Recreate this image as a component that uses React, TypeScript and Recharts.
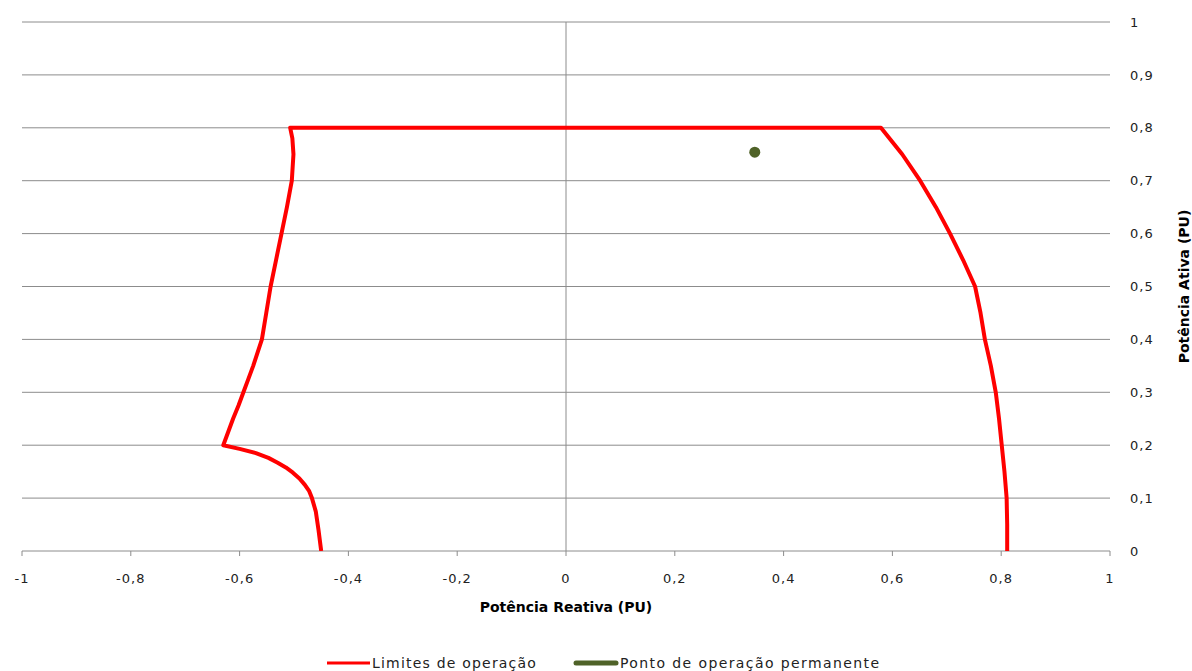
import React from 'react';
import { ComposedChart, Scatter, XAxis, YAxis, CartesianGrid, ReferenceLine } from 'recharts';

const limitX = [-0.45, -0.455, -0.46, -0.467, -0.472, -0.48, -0.49, -0.502, -0.515, -0.53, -0.547, -0.57, -0.6, -0.63, -0.621, -0.612, -0.602, -0.593, -0.584, -0.575, -0.567, -0.559, -0.551, -0.543, -0.533, -0.523, -0.513, -0.504, -0.501, -0.503, -0.507, 0.579, 0.618, 0.651, 0.68, 0.706, 0.73, 0.752, 0.762, 0.77, 0.781, 0.79, 0.796, 0.801, 0.806, 0.81, 0.811, 0.811];
const limitY = [0, 0.04, 0.075, 0.1, 0.113, 0.125, 0.137, 0.148, 0.158, 0.167, 0.176, 0.185, 0.193, 0.2, 0.225, 0.25, 0.275, 0.3, 0.325, 0.35, 0.375, 0.4, 0.45, 0.5, 0.55, 0.6, 0.65, 0.7, 0.75, 0.78, 0.8, 0.8, 0.75, 0.7, 0.65, 0.6, 0.55, 0.5, 0.45, 0.4, 0.35, 0.3, 0.25, 0.2, 0.15, 0.1, 0.05, 0];
const pointX = [0.347];
const pointY = [0.754];
const xTicks = [-1, -0.8, -0.6, -0.4, -0.2, 0, 0.2, 0.4, 0.6, 0.8, 1];
const yTicks = [0, 0.1, 0.2, 0.3, 0.4, 0.5, 0.6, 0.7, 0.8, 0.9, 1];
const xTitle = 'Potência Reativa (PU)';
const yTitle = 'Potência Ativa (PU)';
const series1Name = 'Limites de operação';
const series2Name = 'Ponto de operação permanente';

const limitData = limitX.map((x, i) => ({ x, y: limitY[i] }));
const pointData = pointX.map((x, i) => ({ x, y: pointY[i] }));

const fmt = (v: number) => String(Math.round(v * 10) / 10).replace('.', ',');
const FONT = '"DejaVu Sans", Verdana, sans-serif';
const tickStyle = { fontFamily: FONT, fontSize: 13, fill: '#222', letterSpacing: 1 } as any;

export default function App() {
  return (
    <div style={{ position: 'absolute', left: 0, top: 0, width: 1192, height: 671, background: '#fff' }}>
      <ComposedChart width={1192} height={671} margin={{ top: 22, right: 0, left: 22, bottom: 0 }}>
        <CartesianGrid horizontal vertical={false} stroke="#8c8c8c" strokeWidth={1} horizontalValues={yTicks.filter((t) => t > 0)} />
        <XAxis
          type="number"
          dataKey="x"
          domain={[-1, 1]}
          ticks={xTicks}
          tickFormatter={fmt}
          height={120}
          stroke="#8c8c8c"
          tickSize={5}
          tickMargin={18}
          tick={tickStyle}
          allowDataOverflow
          label={{ value: xTitle, position: 'insideTop', offset: 51, style: { fontFamily: FONT, fontSize: 14, fontWeight: 'bold', fill: '#000' } }}
        />
        <YAxis
          type="number"
          dataKey="y"
          orientation="right"
          domain={[0, 1]}
          ticks={yTicks}
          tickFormatter={fmt}
          width={82}
          axisLine={false}
          tickLine={false}
          tickSize={0}
          tickMargin={20}
          tick={tickStyle}
          allowDataOverflow
          label={{ value: yTitle, angle: -90, position: 'insideRight', offset: 0, dx: -8, style: { textAnchor: 'middle', fontFamily: FONT, fontSize: 14, fontWeight: 'bold', fill: '#000' } }}
        />
        <ReferenceLine x={0} stroke="#8c8c8c" strokeWidth={1} />
        <Scatter
          data={limitData}
          line={{ stroke: '#ff0000', strokeWidth: 4, strokeLinejoin: 'round' } as any}
          shape={() => null}
          isAnimationActive={false}
        />
        <Scatter
          data={pointData}
          fill="#4F6228"
          shape={(p: any) => <circle cx={p.cx} cy={p.cy} r={5.5} fill="#4F6228" />}
          isAnimationActive={false}
        />
        <g>
          <line x1={327} y1={663} x2={370} y2={663} stroke="#ff0000" strokeWidth={3} />
          <text x={372} y={668} fontFamily={FONT} fontSize={14} fill="#222" letterSpacing={1.2}>{series1Name}</text>
          <line x1={576} y1={663} x2={616} y2={663} stroke="#4F6228" strokeWidth={5} strokeLinecap="round" />
          <text x={620} y={668} fontFamily={FONT} fontSize={14} fill="#222" letterSpacing={1.4}>{series2Name}</text>
        </g>
      </ComposedChart>
    </div>
  );
}
